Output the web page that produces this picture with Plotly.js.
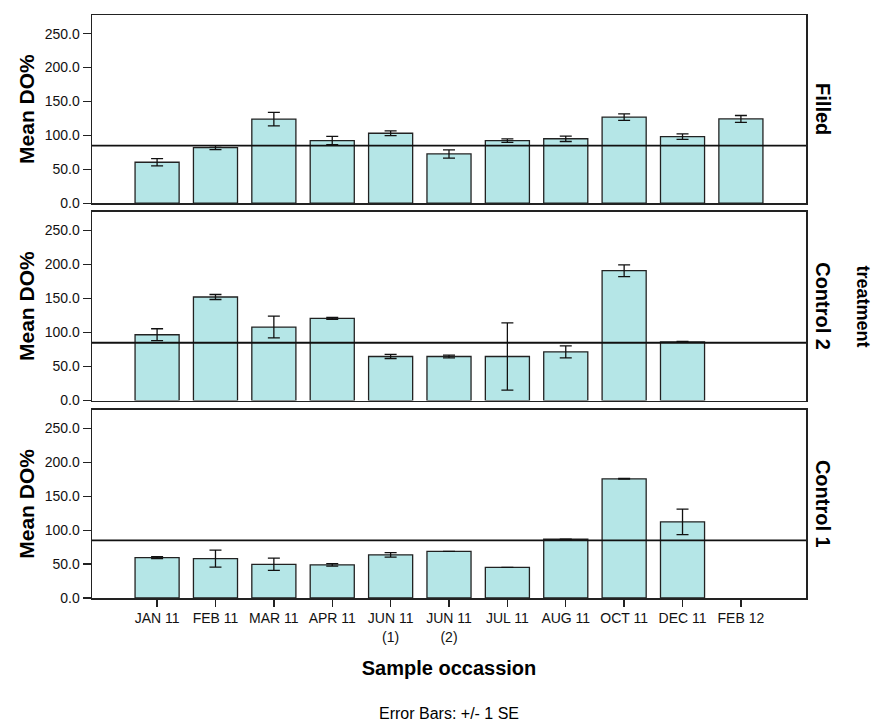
<!DOCTYPE html>
<html>
<head>
<meta charset="utf-8">
<script src="https://cdn.plot.ly/plotly-3.0.1.min.js"></script>
<style>html,body{margin:0;padding:0;background:#fff;}#chart{width:873px;height:724px;}</style>
</head>
<body>
<div id="chart"></div>
<script>
// ---- data ----
const categories = ['JAN 11','FEB 11','MAR 11','APR 11','JUN 11<br>(1)','JUN 11<br>(2)','JUL 11','AUG 11','OCT 11','DEC 11','FEB 12'];
const filledMean   = [60.4, 82.0, 124.0, 92.4, 103.1, 72.6, 92.2, 95.0, 127.0, 98.2, 124.3];
const filledSE     = [5.4, 3.0, 10.0, 6.0, 3.4, 6.0, 2.6, 4.0, 4.8, 4.0, 5.0];
const control2Mean = [96.8, 152.3, 108.1, 120.8, 64.8, 64.8, 64.8, 71.7, 191.0, 86.4, null];
const control2SE   = [8.8, 3.7, 16.0, 1.5, 3.0, 2.0, 49.4, 8.8, 8.6, 0.5, null];
const control1Mean = [59.5, 58.0, 49.7, 48.9, 63.6, 68.9, 45.2, 86.6, 175.8, 112.3, null];
const control1SE   = [1.3, 12.5, 9.0, 1.8, 3.4, 0, 0, 0, 0.5, 18.7, null];
const refLine = 85;
const yTickVals = [0, 50, 100, 150, 200, 250];
const panelNames = ['Filled', 'Control 2', 'Control 1'];

// ---- style ----
const FONT = 'Liberation Sans, Arial, sans-serif';
const barFill = '#b5e6e7';
const edge = '#222222';

function barTrace(mean, se, xa, ya, name) {
  return {
    type: 'bar', x: categories, y: mean, xaxis: xa, yaxis: ya, name: name,
    width: 0.755,
    marker: {color: barFill, line: {color: edge, width: 1.3}},
    error_y: {type: 'data', array: se, visible: true, color: '#111', thickness: 1.3, width: 6},
    hoverinfo: 'x+y', showlegend: false
  };
}

const data = [
  barTrace(filledMean, filledSE, 'x', 'y', panelNames[0]),
  barTrace(control2Mean, control2SE, 'x2', 'y2', panelNames[1]),
  barTrace(control1Mean, control1SE, 'x3', 'y3', panelNames[2])
];

const xRange = [-1.115, categories.length - 1 + 1.115];
const yRange = [0, 277.5];

function xAxis(anchor, showLabels) {
  return {
    type: 'category', range: xRange, anchor: anchor, domain: [0, 1],
    showline: true, mirror: true, linecolor: edge, linewidth: 1.5,
    showgrid: false, zeroline: false,
    ticks: showLabels ? 'outside' : '', ticklen: 7, tickcolor: edge, tickwidth: 1.3,
    showticklabels: showLabels,
    tickfont: {family: FONT, size: 14, color: '#111'},
    tickangle: 0
  };
}
function yAxis(anchor, domain) {
  return {
    range: yRange, anchor: anchor, domain: domain,
    showline: true, mirror: true, linecolor: edge, linewidth: 1.5,
    showgrid: false, zeroline: false,
    tickvals: yTickVals, tickformat: '.1f',
    ticks: 'outside', ticklen: 8, tickcolor: edge, tickwidth: 1.3,
    tickfont: {family: FONT, size: 14, color: '#111'},
    title: {text: 'Mean DO%', font: {family: FONT, size: 21, color: '#000', weight: 'bold'}, standoff: 4}
  };
}

const xa3 = xAxis('y3', true);
xa3.title = {text: 'Sample occassion', font: {family: FONT, size: 20, color: '#000', weight: 'bold'}, standoff: 17};

const shapes = ['y', 'y2', 'y3'].map(function (ya) {
  return {type: 'line', xref: 'paper', x0: 0, x1: 1, yref: ya, y0: refLine, y1: refLine,
          line: {color: '#111', width: 1.8}, layer: 'above'};
});

const annotations = panelNames.map(function (nm, i) {
  const ya = ['y', 'y2', 'y3'][i];
  return {text: nm, xref: 'paper', x: 1, xanchor: 'center', xshift: 17,
          yref: ya + ' domain', y: 0.5, yanchor: 'middle', textangle: 90, showarrow: false,
          font: {family: FONT, size: 20, color: '#000', weight: 'bold'}};
});
annotations.push({text: 'treatment', xref: 'paper', x: 1, xanchor: 'center', xshift: 57,
  yref: 'paper', y: 0.5, yanchor: 'middle', textangle: 90, showarrow: false,
  font: {family: FONT, size: 18, color: '#000', weight: 'bold'}});
annotations.push({text: 'Error Bars: +/- 1 SE', xref: 'paper', x: 0.5, xanchor: 'center',
  yref: 'paper', y: -0.198, yanchor: 'middle', showarrow: false,
  font: {family: FONT, size: 16, color: '#000'}});

const layout = {
  width: 873, height: 724,
  margin: {l: 92, r: 67, t: 14.5, b: 125.5},
  paper_bgcolor: '#fff', plot_bgcolor: '#fff',
  barmode: 'group',
  font: {family: FONT, color: '#000'},
  xaxis: xAxis('y', false),
  xaxis2: xAxis('y2', false),
  xaxis3: xa3,
  yaxis: yAxis('x', [0.6772, 1]),
  yaxis2: yAxis('x2', [0.3387, 0.6623]),
  yaxis3: yAxis('x3', [0, 0.3228]),
  shapes: shapes,
  annotations: annotations,
  showlegend: false
};

Plotly.newPlot('chart', data, layout, {displayModeBar: false, staticPlot: true});
</script>
</body>
</html>
